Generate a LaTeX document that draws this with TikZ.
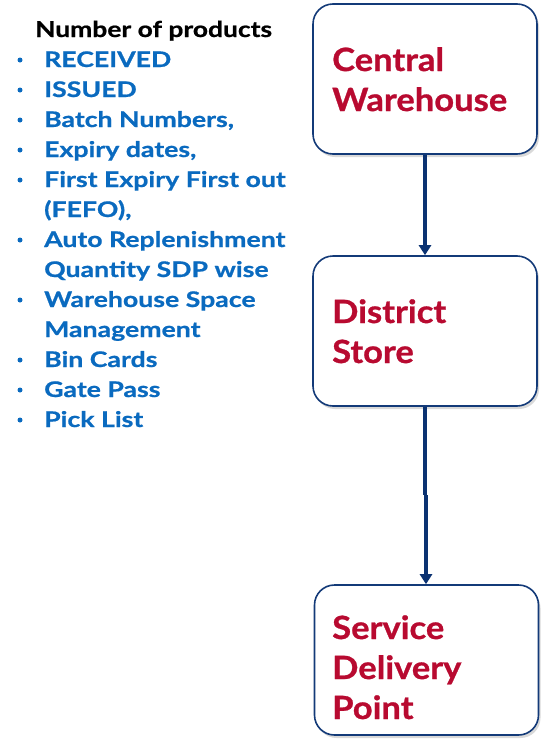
\documentclass[tikz,border=0pt]{standalone}
\usepackage{fontspec}
\setmainfont{Lato}
\newfontfamily\itemfont[FakeStretch=1.24,FakeBold=0.8]{Lato}
\newfontfamily\titlefont[FakeStretch=1.2,FakeBold=0.8]{Lato}
\newfontfamily\stagefont[FakeStretch=1.08,FakeBold=0.8]{Lato}
\usetikzlibrary{arrows.meta,shadows}
\definecolor{boxred}{HTML}{B80A30}
\definecolor{itemblue}{HTML}{0A6ABF}
\definecolor{navy}{HTML}{0B3272}
\definecolor{boxline}{HTML}{133A78}
\begin{document}
\begin{tikzpicture}[x=1pt,y=-1pt,
  stagebox/.style={draw=boxline,line width=1.6pt,rounded corners=20pt,fill=white,
    minimum width=224pt,minimum height=150pt,
    drop shadow={shadow xshift=2pt,shadow yshift=-3pt,opacity=0.25,fill=black!60}},
  stagetext/.style={anchor=base west,inner sep=0pt,text=boxred,font=\stagefont\fontsize{32}{40}\selectfont\bfseries},
  itemtext/.style={anchor=base west,inner sep=0pt,text=itemblue,font=\itemfont\fontsize{21.5}{30}\selectfont\bfseries},
  bullet/.style={circle,fill=itemblue,inner sep=0pt,minimum size=5pt},
  flow/.style={draw=navy,line width=3.5pt,-{Triangle[width=12pt,length=10pt]}}]
\useasboundingbox (0,0) rectangle (546,747);
\node[stagebox] (cw) at (425,79) {};
\node[stagebox] (ds) at (425,331) {};
\node[stagebox] (sdp) at (426.5,660) {};
\node[stagetext] (cw1) at (332,71) {Central};
\node[stagetext] (cw2) at (332,111) {Warehouse};
\node[stagetext] (ds1) at (332,323) {District};
\node[stagetext] (ds2) at (332,363) {Store};
\node[stagetext] (sdp1) at (332,639) {Service};
\node[stagetext] (sdp2) at (332,679) {Delivery};
\node[stagetext] (sdp3) at (332,719) {Point};
\coordinate (jog1) at (425,495);
\coordinate (jog2) at (426,495);
\draw[flow] (cw.south) -- (ds.north);
\draw[draw=navy,line width=3.5pt] (ds.south) -- (jog1);
\draw[flow] (jog2) -- (jog2 |- sdp.north);
\node[anchor=base west,inner sep=0pt,font=\titlefont\fontsize{22}{30}\selectfont\bfseries] (title) at (35,37) {Number of products};
\foreach \t/\y/\b [count=\i] in {RECEIVED/67/1,ISSUED/97/1,{Batch Numbers,}/127/1,{Expiry dates,}/157/1,{First Expiry First out}/187/1,{(FEFO),}/217/0,{Auto Replenishment}/247/1,{Quantity SDP  wise}/277/0,{Warehouse Space}/307/1,{Management}/337/0,{Bin Cards}/367/1,{Gate Pass}/397/1,{Pick List}/427/1}{
  \node[itemtext] (item\i) at (44,\y) {\t};
  \ifnum\b=1 \node[bullet] (bul\i) at (20,\y-7) {};\fi
}
\end{tikzpicture}
\end{document}
